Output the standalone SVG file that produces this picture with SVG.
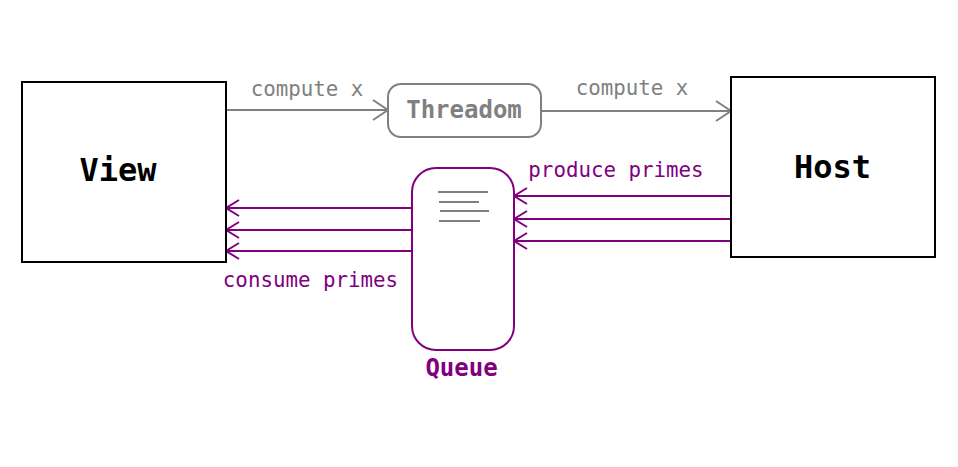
<svg xmlns="http://www.w3.org/2000/svg" width="958" height="467" viewBox="0 0 958 467">
<defs>
<style>
.box{fill:#fff;stroke:#000;stroke-width:2}
.big{font-family:"DejaVu Sans Mono","Liberation Mono",monospace;font-weight:bold;font-size:32px;fill:#000;text-anchor:middle}
.lbl{font-family:"DejaVu Sans Mono","Liberation Mono",monospace;font-size:20.8px;text-anchor:middle}
.gray{fill:#808080}
.purple{fill:#800080}
.gline{stroke:#808080;stroke-width:2;fill:none}
.pline{stroke:#800080;stroke-width:2;fill:none}
</style>
<marker id="ag" markerUnits="userSpaceOnUse" markerWidth="20" markerHeight="24" refX="16" refY="11" orient="auto">
<path d="M1,1 L16,11 L1,21" fill="none" stroke="#808080" stroke-width="2"/>
</marker>
<marker id="ap" markerUnits="userSpaceOnUse" markerWidth="18" markerHeight="20" refX="14" refY="9" orient="auto">
<path d="M1,1 L14,9 L1,17" fill="none" stroke="#800080" stroke-width="2"/>
</marker>
</defs>
<rect width="958" height="467" fill="#fff"/>
<g id="connectors">
<line class="gline" x1="226" y1="110" x2="388" y2="110" marker-end="url(#ag)"/>
<line class="gline" x1="541" y1="111" x2="731" y2="111" marker-end="url(#ag)"/>
<line class="pline" x1="731" y1="196" x2="514" y2="196" marker-end="url(#ap)"/>
<line class="pline" x1="731" y1="219" x2="514" y2="219" marker-end="url(#ap)"/>
<line class="pline" x1="731" y1="241" x2="514" y2="241" marker-end="url(#ap)"/>
<line class="pline" x1="412" y1="208" x2="226" y2="208" marker-end="url(#ap)"/>
<line class="pline" x1="412" y1="230" x2="226" y2="230" marker-end="url(#ap)"/>
<line class="pline" x1="412" y1="251" x2="226" y2="251" marker-end="url(#ap)"/>
<text class="lbl gray" x="307" y="96">compute x</text>
<text class="lbl gray" x="632" y="95">compute x</text>
<text class="lbl purple" x="616" y="177">produce primes</text>
<text class="lbl purple" x="310.5" y="287">consume primes</text>
</g>
<g id="view">
<rect class="box" x="22" y="82" width="204" height="180"/>
<text class="big" x="118" y="181">View</text>
</g>
<g id="host">
<rect class="box" x="731" y="77" width="204" height="180"/>
<text class="big" x="832.5" y="178">Host</text>
</g>
<g id="threadom">
<rect x="388" y="84" width="153" height="53" rx="13" fill="#fff" stroke="#808080" stroke-width="2"/>
<text x="464" y="118" font-family="'DejaVu Sans Mono','Liberation Mono',monospace" font-weight="bold" font-size="24" fill="#808080" text-anchor="middle">Threadom</text>
</g>
<g id="queue">
<rect x="412" y="168" width="102" height="182" rx="24" fill="#fff" stroke="#800080" stroke-width="2"/>
<g stroke="#808080" stroke-width="2">
<line x1="438" y1="192" x2="488" y2="192"/>
<line x1="439" y1="202" x2="479" y2="202"/>
<line x1="440" y1="211" x2="489" y2="211"/>
<line x1="439" y1="221" x2="480" y2="221"/>
</g>
<text x="461.5" y="376" font-family="'DejaVu Sans Mono','Liberation Mono',monospace" font-weight="bold" font-size="24" fill="#800080" text-anchor="middle">Queue</text>
</g>
</svg>
